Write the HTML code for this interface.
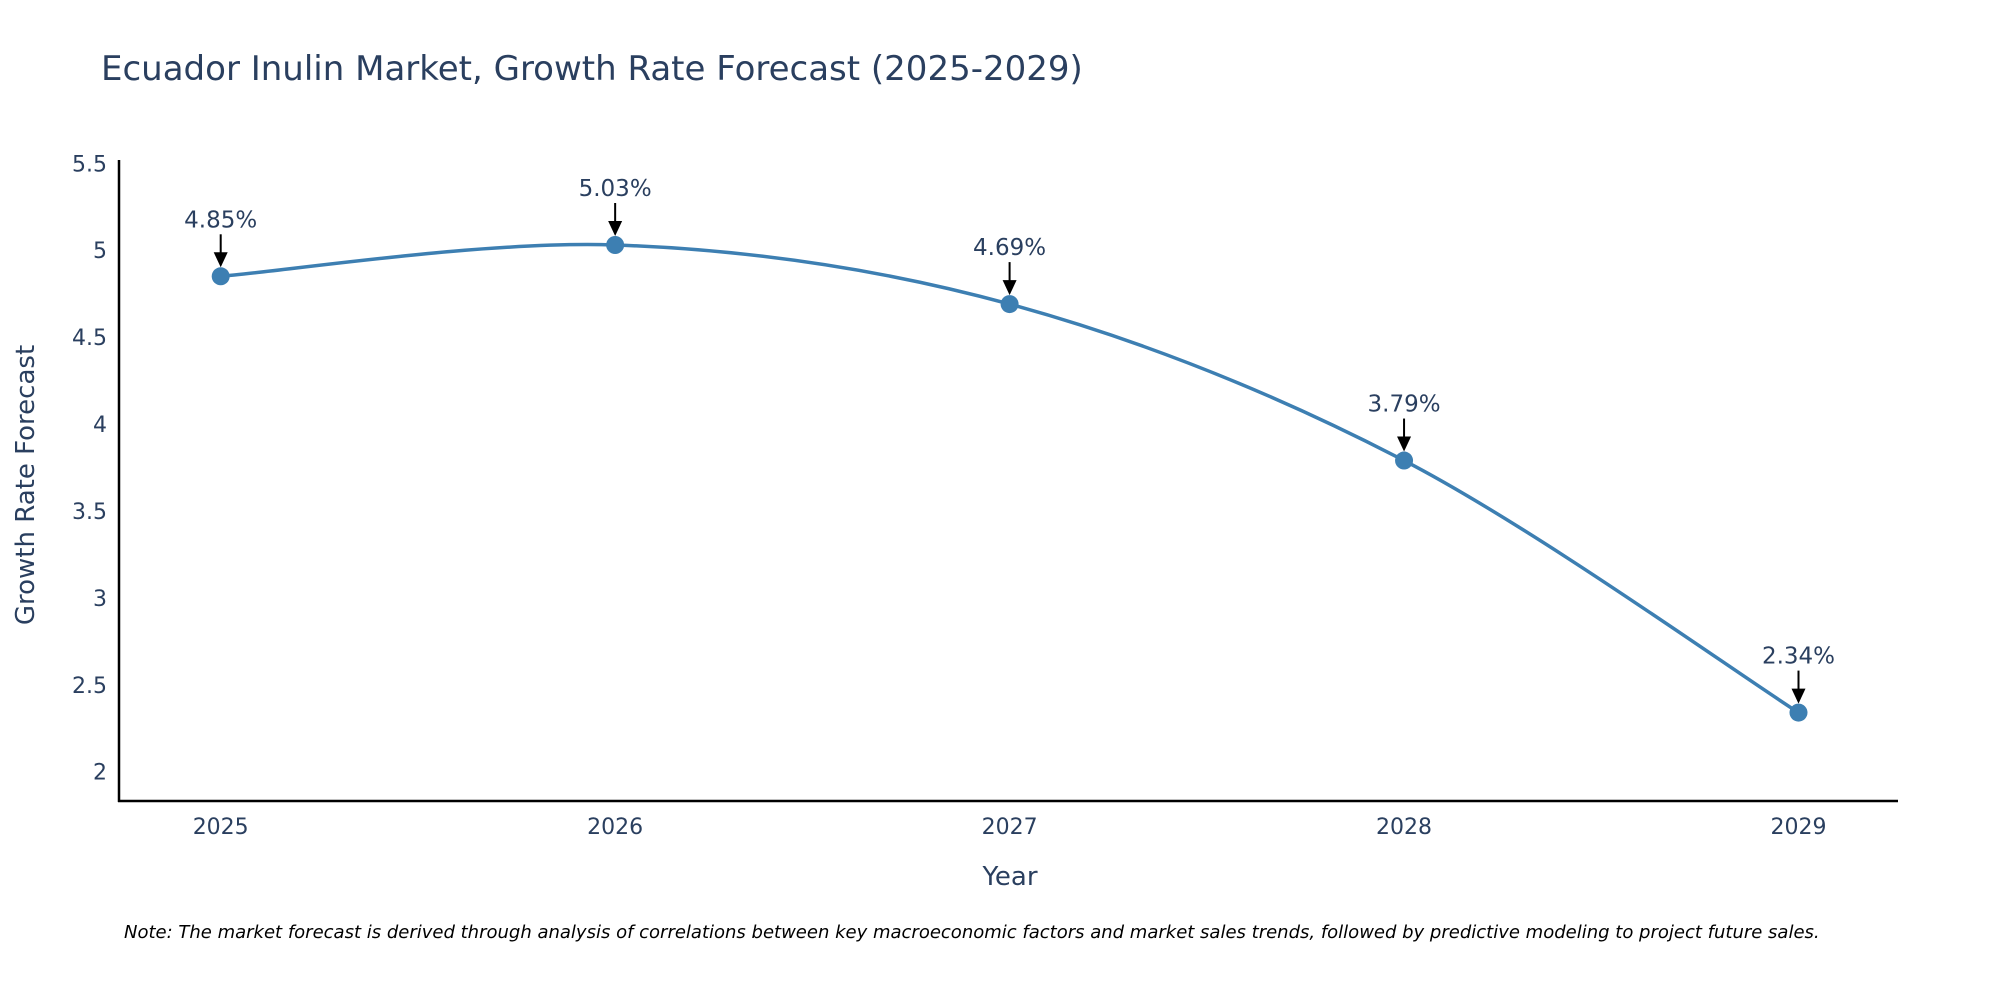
<!DOCTYPE html>
<html><head><meta charset="utf-8"><style>
body{margin:0;background:#fff;}
svg{display:block;font-family:"DejaVu Sans","Liberation Sans",sans-serif;}
</style></head><body>
<svg id="chart" width="2000" height="1000" viewBox="0 0 2000 1000">
<text x="101" y="80" font-size="34" fill="#2a3f5f">Ecuador Inulin Market, Growth Rate Forecast (2025-2029)</text>
<g id="yticks"></g>
<g id="xticks"></g>
<line x1="119" y1="160" x2="119" y2="802" stroke="#000" stroke-width="2.5"/>
<line x1="118" y1="801" x2="1898" y2="801" stroke="#000" stroke-width="2.5"/>
<path id="line" fill="none" stroke="#3d7fb2" stroke-width="3.5"/>
<g id="points"></g>
<g id="annots"></g>
<text x="1010" y="885" font-size="26" fill="#2a3f5f" text-anchor="middle">Year</text>
<text transform="translate(34,485) rotate(-90)" font-size="26" fill="#2a3f5f" text-anchor="middle">Growth Rate Forecast</text>
<text x="124" y="938" font-size="18" font-style="italic" fill="#000">Note: The market forecast is derived through analysis of correlations between key macroeconomic factors and market sales trends, followed by predictive modeling to project future sales.</text>
</svg>
<script>
const years=[2025,2026,2027,2028,2029];
const values=[4.85,5.03,4.69,3.79,2.34];
const labels=["4.85%","5.03%","4.69%","3.79%","2.34%"];
const yTicks=[2,2.5,3,3.5,4,4.5,5,5.5];
const yTickLabels=["2","2.5","3","3.5","4","4.5","5","5.5"];
const NS="http://www.w3.org/2000/svg";
function xs(v){return 220.7+(v-2025)*(1798.5-220.7)/4;}
function ys(v){return 771.7-(v-2)*(771.7-163.3)/3.5;}
function mk(t,a,p){const e=document.createElementNS(NS,t);for(const k in a)e.setAttribute(k,a[k]);p.appendChild(e);return e;}
const yg=document.getElementById('yticks');
yTicks.forEach((t,i)=>{const e=mk('text',{x:107,y:ys(t)+8,'font-size':22,fill:'#2a3f5f','text-anchor':'end'},yg);e.textContent=yTickLabels[i];

});
const xg=document.getElementById('xticks');
years.forEach(y=>{const e=mk('text',{x:xs(y),y:834,'font-size':22,fill:'#2a3f5f','text-anchor':'middle'},xg);e.textContent=y;

});
const P=years.map((y,i)=>[xs(y),ys(values[i])]);
let d='M'+P[0][0]+','+P[0][1];const tt=0.33;
for(let i=0;i<P.length-1;i++){const p0=P[Math.max(0,i-1)],p1=P[i],p2=P[i+1],p3=P[Math.min(P.length-1,i+2)];
const c1=[p1[0]+(p2[0]-p0[0])*tt/2,p1[1]+(p2[1]-p0[1])*tt/2];
const c2=[p2[0]-(p3[0]-p1[0])*tt/2,p2[1]-(p3[1]-p1[1])*tt/2];
d+=' C'+c1+' '+c2+' '+p2;}
document.getElementById('line').setAttribute('d',d);
const pg=document.getElementById('points'),ag=document.getElementById('annots');
P.forEach((p,i)=>{const c=mk('circle',{cx:p[0],cy:p[1],r:9,fill:'#3d7fb2'},pg);


const l=mk('line',{x1:p[0],y1:p[1]-42,x2:p[0],y2:p[1]-22,stroke:'#000','stroke-width':2},ag);


const h=mk('polygon',{points:(p[0]-7)+','+(p[1]-24)+' '+(p[0]+7)+','+(p[1]-24)+' '+p[0]+','+(p[1]-9)},ag);


const t=mk('text',{x:p[0],y:p[1]-49,'font-size':23,fill:'#2a3f5f','text-anchor':'middle'},ag);t.textContent=labels[i];

});
</script>
</body></html>
